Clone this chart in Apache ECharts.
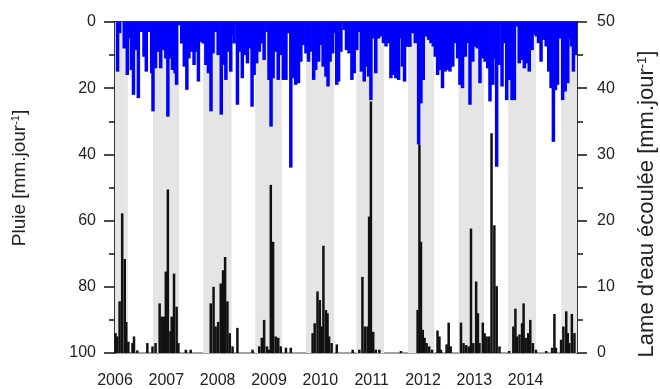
<!DOCTYPE html>
<html>
<head>
<meta charset="utf-8">
<script src="https://cdn.jsdelivr.net/npm/echarts@6/dist/echarts.min.js"></script>
<style>
  html, body { margin: 0; padding: 0; background: #fff; }
  #chart { width: 660px; height: 389px; }
</style>
</head>
<body>
<div id="chart"></div>
<script>
// x positions are decimal years
const yearTicks = [2006, 2007, 2008, 2009, 2010, 2011, 2012, 2013, 2014];

// wet season bands (Oct -> Apr)
const wetSeasons = [
  [2006.0, 2006.25], [2006.74, 2007.25], [2007.72, 2008.27], [2008.73, 2009.25],
  [2009.72, 2010.27], [2010.70, 2011.24], [2011.71, 2012.22], [2012.69, 2013.19],
  [2013.66, 2014.2], [2014.69, 2015.0]
];

// rainfall, mm/day (left axis, inverted)
const rainfall = [
  [2006.05, 15], [2006.09, 3.4], [2006.18, 8], [2006.24, 16], [2006.27, 5], [2006.32, 14.5],
  [2006.36, 22], [2006.40, 8.5], [2006.455, 23], [2006.52, 3], [2006.565, 10.5], [2006.61, 15],
  [2006.675, 3], [2006.715, 15.5], [2006.74, 27], [2006.79, 14], [2006.845, 9], [2006.89, 14],
  [2006.94, 8.5], [2006.99, 11], [2007.03, 28.6], [2007.07, 11], [2007.12, 14.5], [2007.17, 15.5],
  [2007.20, 19], [2007.25, 1], [2007.30, 6.5], [2007.35, 13.5], [2007.40, 20.5], [2007.44, 11],
  [2007.495, 9], [2007.54, 13], [2007.57, 9], [2007.625, 18], [2007.67, 6], [2007.715, 6.5],
  [2007.77, 13], [2007.82, 15.5], [2007.87, 27], [2007.91, 9.5], [2007.96, 3], [2008.01, 10],
  [2008.07, 28], [2008.11, 13], [2008.16, 17.5], [2008.21, 9], [2008.255, 15], [2008.29, 4],
  [2008.32, 6.5], [2008.385, 25], [2008.43, 9], [2008.48, 17], [2008.53, 10], [2008.58, 12.5],
  [2008.63, 8], [2008.67, 25.6], [2008.71, 16], [2008.76, 12.5], [2008.81, 9], [2008.86, 6.5],
  [2008.905, 11.5], [2008.96, 3], [2009.00, 17.5], [2009.04, 31.6], [2009.08, 17], [2009.13, 9],
  [2009.18, 17.5], [2009.23, 10], [2009.28, 17.5], [2009.33, 17.5], [2009.38, 3.4], [2009.425, 44],
  [2009.46, 17], [2009.52, 19], [2009.575, 18.5], [2009.62, 12], [2009.665, 7], [2009.72, 9.5],
  [2009.77, 12], [2009.815, 9], [2009.87, 17.5], [2009.91, 14.5], [2009.965, 12], [2010.01, 7],
  [2010.055, 13.5], [2010.11, 16.5], [2010.15, 19.5], [2010.19, 12], [2010.24, 9.5], [2010.28, 3.4],
  [2010.32, 19], [2010.355, 18], [2010.40, 9], [2010.465, 2.4], [2010.51, 8.5], [2010.56, 9.5],
  [2010.615, 17.5], [2010.66, 15.5], [2010.71, 8.5], [2010.76, 3], [2010.80, 15], [2010.855, 18],
  [2010.90, 13.5], [2010.94, 16.5], [2010.985, 23.6], [2011.03, 5], [2011.08, 15.5], [2011.13, 5],
  [2011.18, 4.4], [2011.23, 6.4], [2011.28, 7.4], [2011.33, 6.4], [2011.375, 17], [2011.42, 16],
  [2011.47, 17], [2011.525, 17.5], [2011.56, 5], [2011.60, 13.5], [2011.64, 18], [2011.70, 7.5],
  [2011.745, 7.5], [2011.80, 3.4], [2011.85, 6.4], [2011.915, 37], [2011.96, 24.6], [2012.005, 17.5],
  [2012.06, 4.4], [2012.11, 5.4], [2012.155, 6.4], [2012.20, 7.4], [2012.24, 10.5], [2012.285, 16],
  [2012.33, 14.5], [2012.38, 20], [2012.43, 15], [2012.48, 14.5], [2012.525, 15], [2012.58, 13.5],
  [2012.63, 6.4], [2012.675, 11], [2012.72, 19], [2012.77, 20], [2012.825, 10.5], [2012.87, 6.4],
  [2012.915, 25], [2012.97, 12], [2013.02, 7.5], [2013.065, 8], [2013.11, 18.5], [2013.16, 11],
  [2013.21, 12], [2013.26, 14], [2013.305, 24], [2013.36, 19], [2013.40, 11], [2013.435, 43.7],
  [2013.48, 13], [2013.54, 19.5], [2013.585, 6.4], [2013.63, 23.6], [2013.68, 17.5], [2013.735, 23.6],
  [2013.78, 23.6], [2013.825, 1.4], [2013.875, 12.5], [2013.93, 11.5], [2013.975, 14], [2014.02, 12.5],
  [2014.07, 15], [2014.125, 8.5], [2014.17, 4], [2014.215, 4.4], [2014.25, 6.4], [2014.30, 12],
  [2014.35, 5.4], [2014.40, 7.4], [2014.45, 15], [2014.495, 20], [2014.54, 36.2], [2014.58, 20.6],
  [2014.62, 19], [2014.67, 5], [2014.72, 23.6], [2014.77, 21], [2014.82, 18.5], [2014.855, 5],
  [2014.89, 7.4], [2014.93, 15], [2014.97, 10]
];

// runoff depth, mm/day (right axis)
const runoff = [
  [2006.01, 3], [2006.045, 2.5], [2006.09, 7.8], [2006.14, 21.1], [2006.19, 14.2], [2006.22, 4.7],
  [2006.26, 1.7], [2006.34, 1.5], [2006.37, 2.5], [2006.435, 0.4], [2006.63, 1.5], [2006.73, 1],
  [2006.79, 1.5], [2006.87, 7.5], [2006.91, 5.5], [2006.955, 5.5], [2006.99, 12.3], [2007.03, 24.7],
  [2007.08, 3.3], [2007.105, 5.5], [2007.15, 12], [2007.20, 7], [2007.235, 1.5], [2007.38, 0.5],
  [2007.475, 0.5], [2007.865, 7.5], [2007.92, 10], [2007.96, 4], [2008.01, 4.7], [2008.06, 10.5],
  [2008.105, 12.5], [2008.145, 14.5], [2008.19, 7.8], [2008.235, 3], [2008.29, 1], [2008.385, 3.8],
  [2008.68, 0.5], [2008.81, 1], [2008.86, 2.3], [2008.905, 5], [2008.96, 1], [2009.00, 0.5],
  [2009.035, 25.4], [2009.08, 16.8], [2009.13, 2.5], [2009.18, 2.3], [2009.23, 1], [2009.33, 0.8],
  [2009.425, 0.8], [2009.85, 3], [2009.89, 4.5], [2009.945, 9.3], [2009.99, 8], [2010.03, 4],
  [2010.06, 16.2], [2010.11, 6.5], [2010.14, 6], [2010.17, 2.5], [2010.22, 1.5], [2010.32, 1.3],
  [2010.63, 0.5], [2010.76, 0.5], [2010.82, 11.5], [2010.87, 4], [2010.92, 4], [2010.95, 20.6],
  [2010.985, 38], [2011.03, 3.2], [2011.08, 0.5], [2011.15, 0.5], [2011.57, 0.3], [2011.895, 6.5],
  [2011.93, 31.5], [2011.96, 16.8], [2011.995, 3.5], [2012.03, 2.3], [2012.07, 1.5], [2012.12, 1],
  [2012.175, 0.5], [2012.283, 3.4], [2012.32, 2.5], [2012.35, 0.5], [2012.46, 1.3], [2012.50, 4.6],
  [2012.54, 1], [2012.74, 4.6], [2012.79, 1.5], [2012.84, 1.2], [2012.89, 1], [2012.935, 18.8],
  [2012.98, 1.5], [2013.035, 10.8], [2013.07, 6], [2013.10, 1.5], [2013.165, 4.6], [2013.20, 3],
  [2013.24, 2.5], [2013.29, 2.5], [2013.335, 33.2], [2013.39, 19.3], [2013.435, 10.1], [2013.49, 1],
  [2013.68, 0.3], [2013.76, 4], [2013.80, 6.7], [2013.83, 2.5], [2013.88, 2.8], [2013.93, 4.5],
  [2013.96, 7.5], [2014.00, 2.3], [2014.05, 3], [2014.09, 5], [2014.14, 1.5], [2014.20, 0.5],
  [2014.40, 0.3], [2014.515, 0.8], [2014.56, 5.9], [2014.59, 0.8], [2014.69, 2], [2014.735, 4],
  [2014.79, 6.3], [2014.82, 3], [2014.85, 1.5], [2014.90, 5.9], [2014.95, 3]
];

const FONT = '"Liberation Sans", Arial, sans-serif';
const chart = echarts.init(document.getElementById('chart'));

const baseX = {
  type: 'value',
  min: 2006,
  max: 2015,
  interval: 1
};

chart.setOption({
  animation: false,
  backgroundColor: '#fff',
  grid: { left: 115, right: 83, top: 22, bottom: 36, show: true, borderColor: '#444', borderWidth: 1, backgroundColor: 'transparent' },
  xAxis: [
    {
      ...baseX,
      axisLine: { lineStyle: { color: '#111', width: 1.5 } },
      axisTick: { length: 6, lineStyle: { color: '#111' } },
      splitLine: { show: false },
      axisLabel: {
        margin: 20, fontSize: 16, color: '#222', fontFamily: FONT,
        showMaxLabel: false,
        formatter: (v) => (yearTicks.includes(v) ? String(v) : '')
      }
    },
    { ...baseX, show: false }
  ],
  yAxis: [
    {
      type: 'value', min: 0, max: 100, interval: 20, inverse: true, position: 'left',
      axisLine: { show: true, lineStyle: { color: '#111', width: 1.5 } },
      axisTick: { length: 11, lineStyle: { color: '#111', width: 1.5 } },
      minorTick: { show: true, splitNumber: 2, length: 6, lineStyle: { color: '#111', width: 1.5 } },
      splitLine: { show: false },
      axisLabel: { margin: 19, fontSize: 16, color: '#222', fontFamily: FONT }
    },
    {
      type: 'value', min: 0, max: 50, interval: 10, position: 'right',
      axisLine: { show: true, lineStyle: { color: '#111', width: 1.5 } },
      axisTick: { length: 10, lineStyle: { color: '#111', width: 1.5 } },
      minorTick: { show: true, splitNumber: 2, length: 6, lineStyle: { color: '#111', width: 1.5 } },
      splitLine: { show: false },
      axisLabel: { margin: 20, fontSize: 16, color: '#222', fontFamily: FONT }
    }
  ],
  series: [
    {
      name: 'seasons',
      type: 'line',
      data: [],
      z: 0,
      silent: true,
      markArea: {
        silent: true,
        itemStyle: { color: '#e5e5e5' },
        data: wetSeasons.map(([a, b]) => [{ xAxis: a }, { xAxis: b }])
      }
    },
    {
      name: 'Lame d\'eau',
      type: 'bar',
      xAxisIndex: 1,
      yAxisIndex: 1,
      data: runoff,
      barWidth: 2.5,
      itemStyle: { color: '#111' },
      z: 3
    },
    {
      name: 'Pluie',
      type: 'bar',
      xAxisIndex: 0,
      yAxisIndex: 0,
      data: rainfall,
      barWidth: 3.5,
      itemStyle: { color: '#0000ff' },
      z: 4
    }
  ],
  graphic: [
    {
      type: 'text',
      x: 20, y: 178, rotation: Math.PI / 2,
      style: {
        text: 'Pluie [mm.jour{sup|-1}]',
        font: '19px ' + FONT,
        fill: '#222',
        align: 'center',
        verticalAlign: 'middle',
        rich: { sup: { fontSize: 11, fontFamily: FONT, fill: '#222', verticalAlign: 'top', lineHeight: 19 } }
      }
    },
    {
      type: 'text',
      x: 647, y: 204, rotation: Math.PI / 2,
      style: {
        text: 'Lame d\'eau écoulée [mm.jour{sup|-1}]',
        font: '22px ' + FONT,
        fill: '#222',
        align: 'center',
        verticalAlign: 'middle',
        rich: { sup: { fontSize: 13, fontFamily: FONT, fill: '#222', verticalAlign: 'top', lineHeight: 22 } }
      }
    }
  ]
});
</script>
</body>
</html>
